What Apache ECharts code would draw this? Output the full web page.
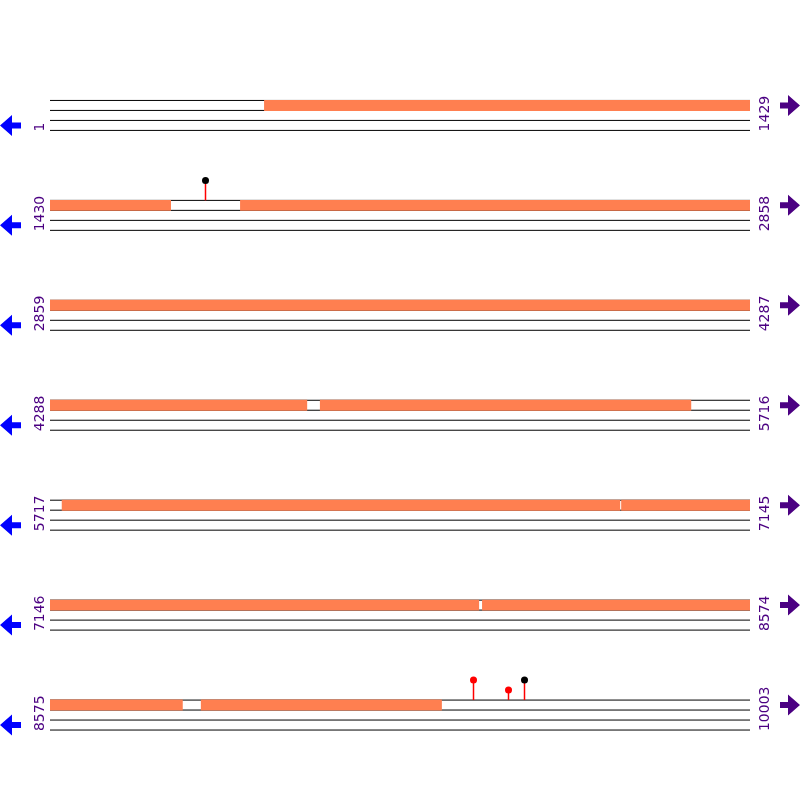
<!DOCTYPE html>
<html>
<head>
<meta charset="utf-8">
<style>html,body{margin:0;padding:0;background:#fff}#c{width:800px;height:800px}</style>
<script src="https://cdn.jsdelivr.net/npm/echarts@6/dist/echarts.min.js"></script>
</head>
<body>
<div id="c"></div>
<script>
// Sequence rows (1-based, inclusive)
const rowStarts = [1, 1430, 2859, 4288, 5717, 7146, 8575];
const rowEnds = [1429, 2858, 4287, 5716, 7145, 8574, 10003];
const rowLength = 1429;
// Orange features (inclusive base ranges)
const featureStarts = [438, 1818, 4839, 5741, 6883, 8028, 8883];
const featureEnds = [1676, 4812, 5596, 6880, 8021, 8845, 9374];
// Lollipop sites
const sitePositions = [1745, 9439, 9510, 9543];
const siteColors = ['#000000', '#ff0000', '#ff0000', '#000000'];
const siteHeights = [2, 2, 1, 2]; // in track units

const TRACKS = 4;
const labelColor = '#4b0082';
function rowLine(r, k) { return 10 * (r + 1) + k; }

const chart = echarts.init(document.getElementById('c'), null, {renderer: 'canvas'});

function rowOf(pos) {
  for (let i = 0; i < rowStarts.length; i++) if (pos >= rowStarts[i] && pos <= rowEnds[i]) return i;
  return -1;
}

// feature segments split per row
const segData = [];
featureStarts.forEach((fs, i) => {
  const fe = featureEnds[i];
  for (let r = 0; r < rowStarts.length; r++) {
    const s = Math.max(fs, rowStarts[r]);
    const e = Math.min(fe, rowEnds[r]);
    if (s <= e) segData.push([s - rowStarts[r], e - rowStarts[r] + 1, r]);
  }
});

const siteData = sitePositions.map((p, i) => {
  const r = rowOf(p);
  return [p - rowStarts[r] + 0.5, r, siteHeights[i], i];
});

const option = {
  animation: false,
  grid: {left: 50, width: 700, top: 0.5, height: 800},
  xAxis: {type: 'value', min: 0, max: rowLength, show: false},
  yAxis: {type: 'value', min: 0, max: 80, inverse: true, show: false},
  series: [
    {
      type: 'custom',
      data: rowStarts.map((s, i) => [i]),
      renderItem: function (params, api) {
        const r = api.value(0);
        const children = [];
        for (let k = 0; k < TRACKS; k++) {
          const a = api.coord([0, rowLine(r, k)]);
          const b = api.coord([rowLength, rowLine(r, k)]);
          children.push({type: 'line', shape: {x1: a[0], y1: a[1], x2: b[0], y2: b[1]},
            style: {stroke: '#000', lineWidth: 1}});
        }
        const left = api.coord([0, rowLine(r, 3)]);
        const right = api.coord([rowLength, rowLine(r, 3)]);
        const font = '14px "DejaVu Sans"';
        children.push({type: 'text', x: left[0] - 9.5, y: left[1] + 1, rotation: Math.PI / 2,
          style: {text: String(rowStarts[r]), fill: labelColor, font: font, align: 'left', verticalAlign: 'middle'}});
        children.push({type: 'text', x: right[0] + 15.5, y: right[1] + 1, rotation: Math.PI / 2,
          style: {text: String(rowEnds[r]), fill: labelColor, font: font, align: 'left', verticalAlign: 'middle'}});
        // reverse arrow (left)
        const yl = api.coord([0, rowLine(r, 2) + 0.5])[1];
        const lx = left[0];
        children.push({type: 'polygon', shape: {points: [
          [lx - 50, yl], [lx - 38, yl - 10.5], [lx - 38, yl - 3], [lx - 29, yl - 3],
          [lx - 29, yl + 3], [lx - 38, yl + 3], [lx - 38, yl + 10.5]]},
          style: {fill: '#0000ff'}});
        // forward arrow (right)
        const yr = api.coord([0, rowLine(r, 0) + 0.5])[1];
        const rx = right[0];
        children.push({type: 'polygon', shape: {points: [
          [rx + 50, yr], [rx + 38, yr - 10.5], [rx + 38, yr - 3], [rx + 30, yr - 3],
          [rx + 30, yr + 3], [rx + 38, yr + 3], [rx + 38, yr + 10.5]]},
          style: {fill: labelColor}});
        return {type: 'group', children: children};
      }
    },
    {
      type: 'custom',
      data: segData,
      renderItem: function (params, api) {
        const r = api.value(2);
        const p0 = api.coord([api.value(0), rowLine(r, 0)]);
        const p1 = api.coord([api.value(1), rowLine(r, 1)]);
        return {type: 'rect', shape: {x: p0[0], y: p0[1] - 0.5, width: p1[0] - p0[0], height: p1[1] - p0[1] + 1},
          style: {fill: '#ff7f50'}};
      }
    },
    {
      type: 'custom',
      data: siteData,
      renderItem: function (params, api) {
        const r = api.value(1);
        const base = api.coord([api.value(0), rowLine(r, 0)]);
        const top = api.coord([api.value(0), rowLine(r, 0) - api.value(2)]);
        const x = Math.round(base[0]);
        const c = siteColors[api.value(3)];
        return {type: 'group', children: [
          {type: 'rect', shape: {x: x - 0.25, y: top[1], width: 1.5, height: base[1] - top[1]}, style: {fill: '#ff0000'}},
          {type: 'circle', shape: {cx: x + 0.5, cy: top[1], r: 3.5}, style: {fill: c}}
        ]};
      }
    }
  ]
};
chart.setOption(option);
</script>
</body>
</html>
